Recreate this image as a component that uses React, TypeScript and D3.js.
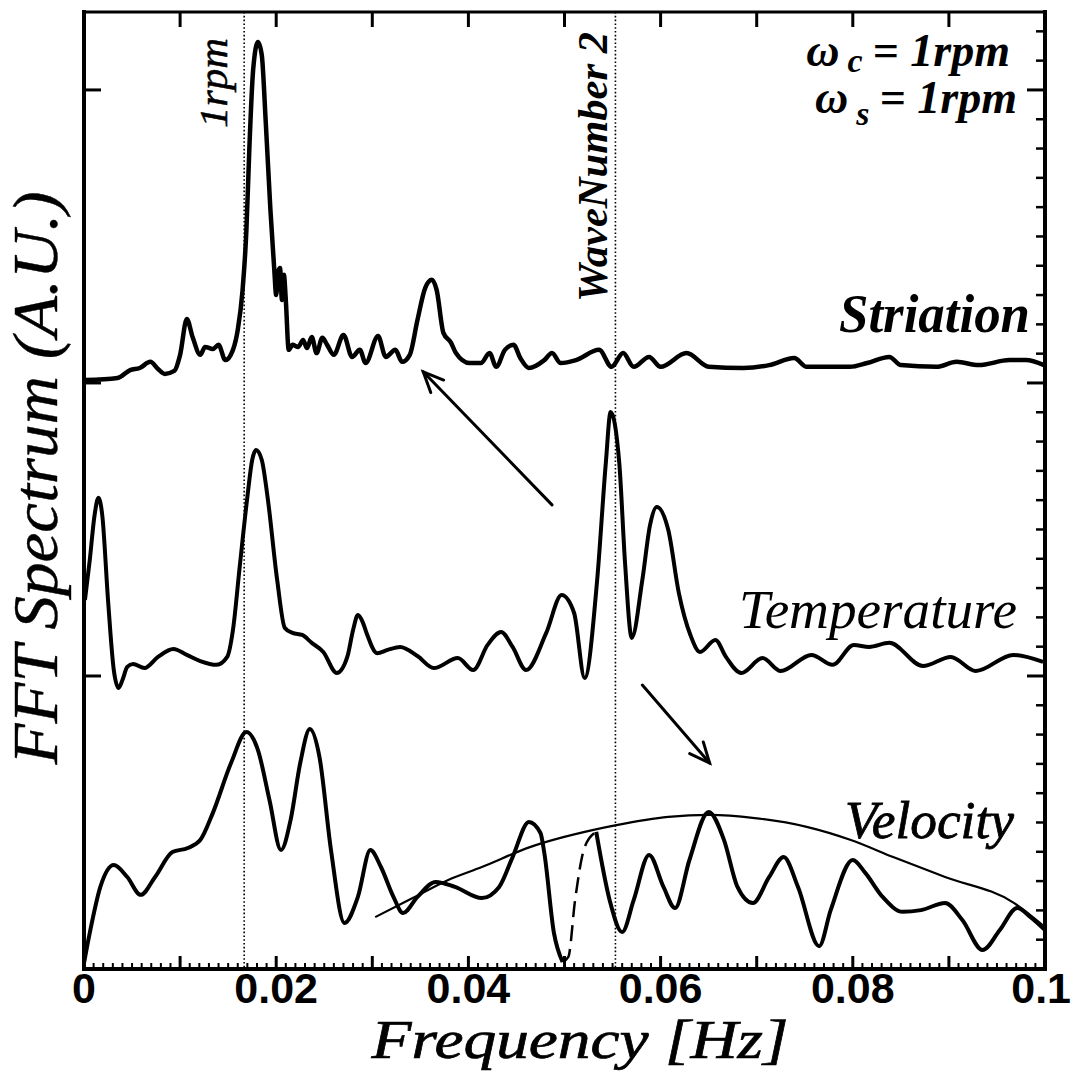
import React from 'react';
import * as d3 from 'd3';

const W = 1072;
const H = 1074;
const plot = { left: 84, right: 1045, top: 12, bottom: 969 };

// Axis domains: frequency in Hz, spectrum in arbitrary units (stacked traces)
const freqDomain: [number, number] = [0, 0.1];
const auDomain: [number, number] = [0, 3.266];

const xTickValues = [0, 0.02, 0.04, 0.06, 0.08, 0.1];
const xTickLabels = ['0', '0.02', '0.04', '0.06', '0.08', '0.1'];

// Vertical offsets of the stacked traces
const striationOffset = 2;
const temperatureOffset = 1;
const velocityOffset = 0;

// Striation spectrum
const striationFreq = [
  0.0001, 0.0035, 0.0048, 0.0058, 0.0069, 0.0077, 0.0084, 0.0094, 0.0100, 0.0107,
  0.0113, 0.0121, 0.0126, 0.0134, 0.0140, 0.0147, 0.0155, 0.0160, 0.0165, 0.0169,
  0.0172, 0.0176, 0.0181, 0.0185, 0.0189, 0.0194, 0.0198, 0.0200, 0.0202, 0.0204,
  0.0206, 0.0208, 0.0210, 0.0213, 0.0217, 0.0223, 0.0228, 0.0232, 0.0237, 0.0242,
  0.0248, 0.0253, 0.0260, 0.0270, 0.0279, 0.0287, 0.0293, 0.0306, 0.0314, 0.0324,
  0.0331, 0.0339, 0.0347, 0.0355, 0.0362, 0.0367, 0.0374, 0.0382, 0.0387, 0.0401,
  0.0413, 0.0422, 0.0429, 0.0438, 0.0447, 0.0454, 0.0463, 0.0479, 0.0487, 0.0496,
  0.0512, 0.0536, 0.0549, 0.0561, 0.0572, 0.0588, 0.0600, 0.0627, 0.0650, 0.0686,
  0.0713, 0.0739, 0.0752, 0.0797, 0.0815, 0.0838, 0.0850, 0.0887, 0.0908, 0.0931,
  0.0963, 0.0980, 0.0999,
];
const striationAmp = [
  0.010, 0.017, 0.044, 0.051, 0.072, 0.048, 0.031, 0.041, 0.096, 0.218,
  0.157, 0.096, 0.123, 0.116, 0.130, 0.078, 0.113, 0.181, 0.317, 0.522,
  0.795, 1.068, 1.164, 1.119, 0.898, 0.590, 0.386, 0.300, 0.379, 0.392,
  0.283, 0.369, 0.283, 0.113, 0.130, 0.123, 0.147, 0.119, 0.157, 0.102,
  0.154, 0.130, 0.096, 0.164, 0.089, 0.113, 0.068, 0.160, 0.089, 0.113,
  0.072, 0.096, 0.215, 0.324, 0.352, 0.317, 0.171, 0.137, 0.102, 0.068,
  0.068, 0.102, 0.055, 0.113, 0.130, 0.085, 0.051, 0.078, 0.102, 0.068,
  0.078, 0.113, 0.055, 0.102, 0.055, 0.089, 0.055, 0.102, 0.055, 0.051,
  0.061, 0.085, 0.055, 0.055, 0.068, 0.089, 0.061, 0.055, 0.072, 0.061,
  0.078, 0.078, 0.061,
];

// Temperature spectrum
const temperatureFreq = [
  0.0001, 0.0006, 0.0011, 0.0015, 0.0019, 0.0025, 0.0031, 0.0036, 0.0040, 0.0045,
  0.0051, 0.0063, 0.0077, 0.0093, 0.0107, 0.0121, 0.0138, 0.0149, 0.0155, 0.0162,
  0.0170, 0.0175, 0.0179, 0.0185, 0.0191, 0.0201, 0.0209, 0.0217, 0.0227, 0.0237,
  0.0249, 0.0263, 0.0274, 0.0280, 0.0285, 0.0290, 0.0294, 0.0305, 0.0316, 0.0329,
  0.0347, 0.0364, 0.0389, 0.0405, 0.0420, 0.0434, 0.0446, 0.0460, 0.0481, 0.0497,
  0.0510, 0.0521, 0.0534, 0.0543, 0.0548, 0.0557, 0.0563, 0.0570, 0.0581, 0.0589,
  0.0596, 0.0608, 0.0619, 0.0631, 0.0641, 0.0657, 0.0668, 0.0684, 0.0706, 0.0725,
  0.0757, 0.0779, 0.0801, 0.0817, 0.0838, 0.0873, 0.0902, 0.0928, 0.0967, 0.0998,
];
const temperatureAmp = [
  0.259, 0.396, 0.549, 0.608, 0.549, 0.259, 0.020, -0.041, -0.014, 0.031,
  0.041, 0.027, 0.065, 0.092, 0.072, 0.051, 0.038, 0.065, 0.157, 0.372,
  0.611, 0.737, 0.771, 0.737, 0.611, 0.328, 0.164, 0.147, 0.140, 0.113,
  0.082, 0.010, 0.065, 0.157, 0.208, 0.184, 0.147, 0.078, 0.089, 0.099,
  0.068, 0.027, 0.061, 0.020, 0.106, 0.150, 0.099, 0.020, 0.147, 0.276,
  0.215, -0.007, 0.328, 0.727, 0.901, 0.727, 0.386, 0.130, 0.328, 0.515,
  0.577, 0.498, 0.283, 0.140, 0.082, 0.123, 0.065, 0.010, 0.061, 0.017,
  0.072, 0.038, 0.106, 0.099, 0.113, 0.034, 0.065, 0.017, 0.072, 0.048,
];

// Velocity spectrum
const velocityFreq = [
  0.0000, 0.0006, 0.0017, 0.0031, 0.0045, 0.0059, 0.0074, 0.0092, 0.0108, 0.0121,
  0.0134, 0.0153, 0.0169, 0.0181, 0.0193, 0.0205, 0.0215, 0.0225, 0.0235, 0.0245,
  0.0257, 0.0271, 0.0285, 0.0298, 0.0309, 0.0322, 0.0332, 0.0347, 0.0366, 0.0386,
  0.0414, 0.0432, 0.0446, 0.0463, 0.0475, 0.0479, 0.0489, 0.0498, 0.0504, 0.0511,
  0.0521, 0.0533, 0.0547, 0.0560, 0.0572, 0.0588, 0.0603, 0.0615, 0.0630, 0.0650,
  0.0666, 0.0680, 0.0696, 0.0713, 0.0728, 0.0743, 0.0765, 0.0777, 0.0800, 0.0813,
  0.0831, 0.0852, 0.0871, 0.0896, 0.0914, 0.0935, 0.0953, 0.0971, 0.0985, 0.1000,
];
const velocityAmp = [
  0.020, 0.123, 0.280, 0.355, 0.314, 0.253, 0.314, 0.399, 0.413, 0.440,
  0.532, 0.703, 0.809, 0.747, 0.577, 0.406, 0.509, 0.703, 0.819, 0.724,
  0.406, 0.157, 0.246, 0.406, 0.348, 0.246, 0.191, 0.246, 0.297, 0.280,
  0.242, 0.280, 0.382, 0.502, 0.464, 0.396, 0.123, 0.024, 0.041, 0.235,
  0.416, 0.468, 0.235, 0.126, 0.235, 0.389, 0.280, 0.208, 0.372, 0.536,
  0.440, 0.280, 0.225, 0.314, 0.382, 0.280, 0.078, 0.201, 0.372, 0.328,
  0.246, 0.195, 0.201, 0.225, 0.167, 0.065, 0.133, 0.208, 0.177, 0.133,
];
// Frequency band in which the velocity trace is drawn dashed
const velocityDashedBand: [number, number] = [0.0498, 0.0533];

// Smooth envelope over the velocity spectrum
const envelopeFreq = [
  0.0303, 0.0342, 0.0379, 0.0414, 0.0464, 0.0529, 0.0554, 0.0608, 0.0651, 0.0698,
  0.0752, 0.0798, 0.0842, 0.0896, 0.0968, 0.1000,
];
const envelopeAmp = [
  0.177, 0.242, 0.304, 0.348, 0.416, 0.474, 0.491, 0.519, 0.526, 0.515,
  0.485, 0.440, 0.382, 0.314, 0.225, 0.143,
];

// Reference frequencies marked with dotted lines
const markerFreqs = [1 / 60, 0.0553];
const markerLabels = ['1rpm', 'WaveNumber 2'];

// Annotation arrows: [fromFreq, fromAU, toFreq, toAU]
const arrows: [number, number, number, number][] = [
  [0.0487, 1.584, 0.0353, 2.038],
  [0.0581, 0.969, 0.0651, 0.703],
];

const serif = '"Liberation Serif", "Times New Roman", Times, serif';
const sans = '"Liberation Sans", Arial, Helvetica, sans-serif';

export default function App() {
  const x = d3.scaleLinear().domain(freqDomain).range([plot.left, plot.right]);
  const y = d3.scaleLinear().domain(auDomain).range([plot.bottom, plot.top]);

  const makeLine = (offset: number) =>
    d3
      .line<[number, number]>()
      .x((d) => x(d[0]))
      .y((d) => y(d[1] + offset))
      .curve(d3.curveMonotoneX);

  const zip = (f: number[], a: number[]) => f.map((v, i) => [v, a[i]] as [number, number]);

  const striation = zip(striationFreq, striationAmp);
  const temperature = zip(temperatureFreq, temperatureAmp);
  const velocity = zip(velocityFreq, velocityAmp);
  const envelope = zip(envelopeFreq, envelopeAmp);

  const velA = velocity.filter((d) => d[0] <= velocityDashedBand[0]);
  const velDash = velocity.filter((d) => d[0] >= velocityDashedBand[0] && d[0] <= velocityDashedBand[1]);
  const velB = velocity.filter((d) => d[0] >= velocityDashedBand[1]);

  const bottomMinor = d3.range(0, 101).map((i) => i / 1000);
  const topTicks = d3.range(1, 10).map((i) => i / 100);
  const rightMinor = d3.range(1, 33).map((i) => i / 10).filter((v) => Math.abs(v - Math.round(v)) > 1e-6);
  const majorAU = [1, 2, 3];

  const arrowHead = (x1: number, y1: number, x2: number, y2: number) => {
    const ang = Math.atan2(y2 - y1, x2 - x1);
    const len = 22;
    const spread = 0.42;
    const p1 = [x2 - len * Math.cos(ang - spread), y2 - len * Math.sin(ang - spread)];
    const p2 = [x2 - len * Math.cos(ang + spread), y2 - len * Math.sin(ang + spread)];
    return `M${p1[0]},${p1[1]}L${x2},${y2}L${p2[0]},${p2[1]}`;
  };

  return (
    <svg
      width={W}
      height={H}
      viewBox={`0 0 ${W} ${H}`}
      style={{ position: 'absolute', left: 0, top: 0, background: '#fff' }}
    >
      <rect x={0} y={0} width={W} height={H} fill="#fff" />

      {/* reference frequency markers */}
      {markerFreqs.map((f, i) => (
        <line
          key={`m${i}`}
          x1={x(f)}
          x2={x(f)}
          y1={plot.top}
          y2={plot.bottom}
          stroke="#000"
          strokeWidth={1.6}
          strokeDasharray="1.6,2.2"
        />
      ))}
      <text
        transform={`translate(${x(markerFreqs[0]) - 17},128) rotate(-90)`}
        fontFamily={serif}
        fontStyle="italic"
        fontSize={40}
        stroke="#000"
        strokeWidth={0.5}
        textLength={90}
        lengthAdjust="spacingAndGlyphs"
      >
        {markerLabels[0]}
      </text>
      <text
        transform={`translate(${x(markerFreqs[1]) - 8},302) rotate(-90)`}
        fontFamily={serif}
        fontStyle="italic"
        fontWeight="bold"
        fontSize={42}
        textLength={270}
        lengthAdjust="spacingAndGlyphs"
      >
        {markerLabels[1]}
      </text>

      {/* spectra */}
      <path d={makeLine(striationOffset)(striation) || ''} fill="none" stroke="#000" strokeWidth={4.5} strokeLinejoin="round" />
      <path d={makeLine(temperatureOffset)(temperature) || ''} fill="none" stroke="#000" strokeWidth={4} strokeLinejoin="round" />
      <path d={makeLine(velocityOffset)(velA) || ''} fill="none" stroke="#000" strokeWidth={4} strokeLinejoin="round" />
      <path d={makeLine(velocityOffset)(velDash) || ''} fill="none" stroke="#000" strokeWidth={2.5} strokeDasharray="16,8" />
      <path d={makeLine(velocityOffset)(velB) || ''} fill="none" stroke="#000" strokeWidth={4} strokeLinejoin="round" />
      <path d={makeLine(velocityOffset)(envelope) || ''} fill="none" stroke="#000" strokeWidth={2.2} />

      {/* annotation arrows */}
      {arrows.map(([f1, a1, f2, a2], i) => {
        const x1 = x(f1), y1 = y(a1), x2 = x(f2), y2 = y(a2);
        return (
          <g key={`a${i}`} stroke="#000" strokeWidth={3} fill="none" strokeLinecap="round">
            <line x1={x1} y1={y1} x2={x2} y2={y2} />
            <path d={arrowHead(x1, y1, x2, y2)} strokeLinejoin="miter" />
          </g>
        );
      })}

      {/* frame */}
      <g stroke="#000" fill="none" strokeLinecap="square">
        <line x1={plot.left} x2={plot.right} y1={plot.bottom} y2={plot.bottom} strokeWidth={4} />
        <line x1={plot.left} x2={plot.left} y1={plot.top} y2={plot.bottom} strokeWidth={4} />
        <line x1={plot.right} x2={plot.right} y1={plot.top} y2={plot.bottom} strokeWidth={4} />
        <line x1={plot.left} x2={plot.right} y1={plot.top} y2={plot.top} strokeWidth={3} />
      </g>

      {/* ticks */}
      <g stroke="#000">
        {bottomMinor.map((f, i) => (
          <line
            key={`bm${i}`}
            x1={x(f)}
            x2={x(f)}
            y1={plot.bottom}
            y2={plot.bottom - (i % 10 === 0 ? 13 : 6)}
            strokeWidth={i % 10 === 0 ? 3 : 2}
          />
        ))}
        {topTicks.map((f, i) => (
          <line key={`tt${i}`} x1={x(f)} x2={x(f)} y1={plot.top} y2={plot.top + 15} strokeWidth={3} />
        ))}
        {majorAU.map((v) => (
          <line key={`lt${v}`} x1={plot.left} x2={plot.left + 17} y1={y(v)} y2={y(v)} strokeWidth={3} />
        ))}
        {majorAU.map((v) => (
          <line key={`rt${v}`} x1={plot.right} x2={plot.right - 18} y1={y(v)} y2={y(v)} strokeWidth={3} />
        ))}
        {rightMinor.map((v, i) => (
          <line key={`rm${i}`} x1={plot.right} x2={plot.right - 9} y1={y(v)} y2={y(v)} strokeWidth={2.5} />
        ))}
      </g>

      {/* tick labels */}
      {xTickValues.map((v, i) => {
        const last = i === xTickValues.length - 1;
        return (
          <text
            key={`xl${i}`}
            x={last ? W - 1 : x(v)}
            y={1003}
            textAnchor={last ? 'end' : 'middle'}
            fontFamily={sans}
            fontWeight="bold"
            fontSize={43}
          >
            {xTickLabels[i]}
          </text>
        );
      })}

      {/* trace labels */}
      <text x={1030} y={332} textAnchor="end" fontFamily={serif} fontStyle="italic" fontWeight="bold" fontSize={54} textLength={191} lengthAdjust="spacingAndGlyphs">
        Striation
      </text>
      <text x={1017} y={628} textAnchor="end" fontFamily={serif} fontStyle="italic" fontSize={55} textLength={278} lengthAdjust="spacingAndGlyphs">
        Temperature
      </text>
      <text x={1014} y={838} textAnchor="end" fontFamily={serif} fontStyle="italic" fontSize={52} stroke="#000" strokeWidth={0.8} textLength={169} lengthAdjust="spacingAndGlyphs">
        Velocity
      </text>

      {/* rotation rates */}
      <text x={1010} y={66} textAnchor="end" fontFamily={serif} fontStyle="italic" fontWeight="bold" fontSize={46}>
        ω<tspan fontSize={34} dx={8} dy={6}>c</tspan>
        <tspan dx={10} dy={-6}>= 1rpm</tspan>
      </text>
      <text x={1017} y={113} textAnchor="end" fontFamily={serif} fontStyle="italic" fontWeight="bold" fontSize={46}>
        ω<tspan fontSize={34} dx={8} dy={12}>s</tspan>
        <tspan dx={10} dy={-12}>= 1rpm</tspan>
      </text>

      {/* axis titles */}
      <text
        transform="translate(57,478) rotate(-90)"
        textAnchor="middle"
        fontFamily={serif}
        fontStyle="italic"
        fontSize={64}
        stroke="#000"
        strokeWidth={0.4}
        textLength={573}
        lengthAdjust="spacingAndGlyphs"
      >
        FFT Spectrum (A.U.)
      </text>
      <text
        x={580}
        y={1058}
        textAnchor="middle"
        fontFamily={serif}
        fontStyle="italic"
        fontSize={54}
        stroke="#000"
        strokeWidth={0.7}
        textLength={417}
        lengthAdjust="spacingAndGlyphs"
      >
        Frequency [Hz]
      </text>
    </svg>
  );
}
